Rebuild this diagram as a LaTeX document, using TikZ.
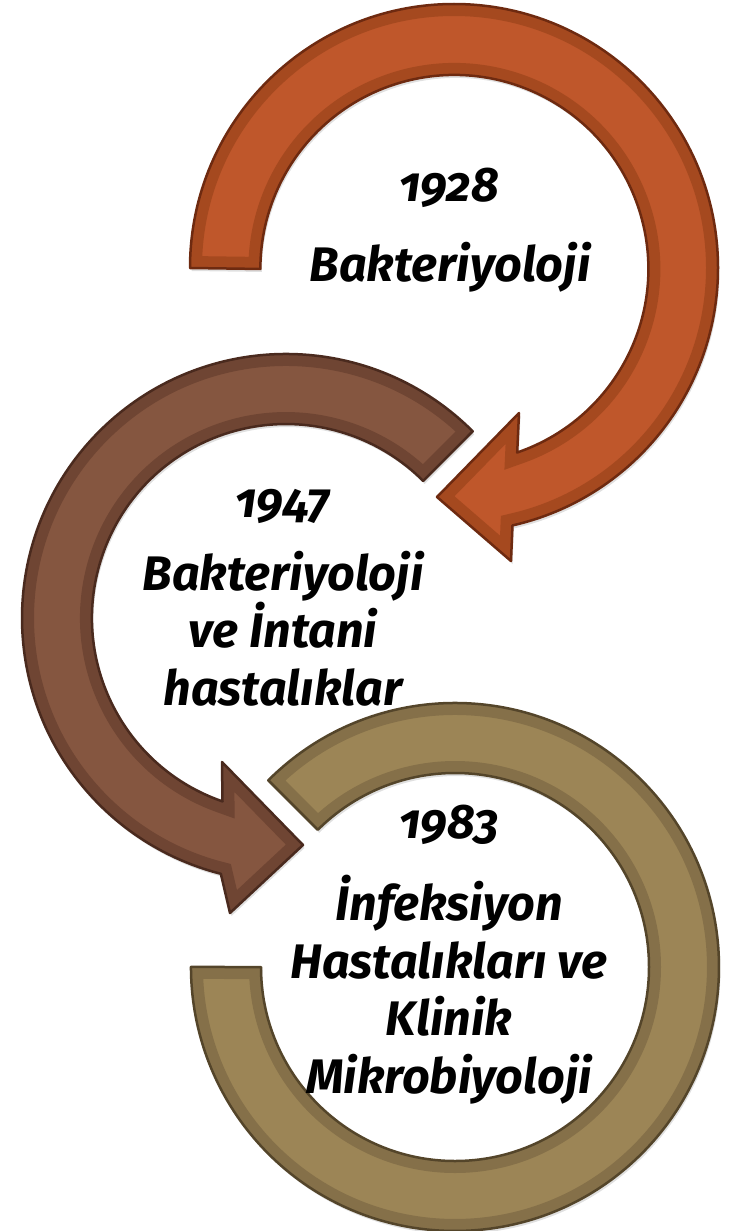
\documentclass[tikz,border=0pt]{standalone}
\usepackage{fontspec}
\setmainfont{Fira Sans}[Numbers=OldStyle]
\usetikzlibrary{positioning}

\definecolor{rustlight}{HTML}{BF572B}
\definecolor{rustband}{HTML}{A5491F}
\definecolor{rustline}{HTML}{6E2A10}
\definecolor{brownlight}{HTML}{855640}
\definecolor{brownband}{HTML}{6F4533}
\definecolor{brownline}{HTML}{4A2A1E}
\definecolor{olivelight}{HTML}{9C8556}
\definecolor{oliveband}{HTML}{857049}
\definecolor{oliveline}{HTML}{54452A}

% shapes of the three circular arrows (pixel units, y downwards)
\newcommand{\rustarrow}{(190,268) arc[start angle=-180, end angle=77.2, radius=264]
  -- (511,561) -- (437,497) -- (519,413) -- (517.2,452.5)
  arc[start angle=71.1, end angle=-180, radius=194] -- cycle}
\newcommand{\brownarrow}{(472.7,431.3) arc[start angle=-45, end angle=-255.7, radius=264]
  -- (230,913) -- (303,845) -- (222,762) -- (222.5,801.4)
  arc[start angle=-250.9, end angle=-45, radius=194] -- cycle}
\newcommand{\olivering}{(268.3,780.3) arc[start angle=-135, end angle=180, radius=264]
  -- (261,967) arc[start angle=180, end angle=-135, radius=194] -- cycle}

% soft shadow, light fill, darker inner rim, thin dark outline
\newcommand{\bevelshape}[4]{%
  \fill[black, opacity=0.12, xshift=1.5pt, yshift=-3pt] #4;
  \fill[#1] #4;
  \begin{scope}
    \clip #4;
    \draw[#2, line width=24pt] #4;
  \end{scope}
  \draw[#3, line width=2.5pt, line join=round] #4;}

\begin{document}
\begin{tikzpicture}[
    x=1pt, y=-1pt,
    year/.style={font=\fontsize{48.5}{57.5}\selectfont\bfseries\itshape, anchor=base, inner sep=0pt},
    field/.style={font=\fontsize{48.5}{57.5}\selectfont\bfseries\itshape, align=center, anchor=base, inner sep=0pt},
    ]
    \useasboundingbox (0,0) rectangle (741,1231);

    % Arrows
    \bevelshape{rustlight}{rustband}{rustline}{\rustarrow}
    \bevelshape{brownlight}{brownband}{brownline}{\brownarrow}
    \bevelshape{olivelight}{oliveband}{oliveline}{\olivering}

    % 1928 (base = last line)
    \node[year] (y1) at (449,201) {1928};
    \node[field] (f1) at (450,281) {Bakteriyoloji};

    % 1947
    \node[year] (y2) at (283,517) {1947};
    \node[field] (f2) at (283,705) {Bakteriyoloji\\ve İntani\\hastalıklar};

    % 1983
    \node[year] (y3) at (449,838) {1983};
    \node[field] (f3) at (449,1093) {İnfeksiyon\\Hastalıkları ve\\Klinik\\Mikrobiyoloji};

\end{tikzpicture}
\end{document}
